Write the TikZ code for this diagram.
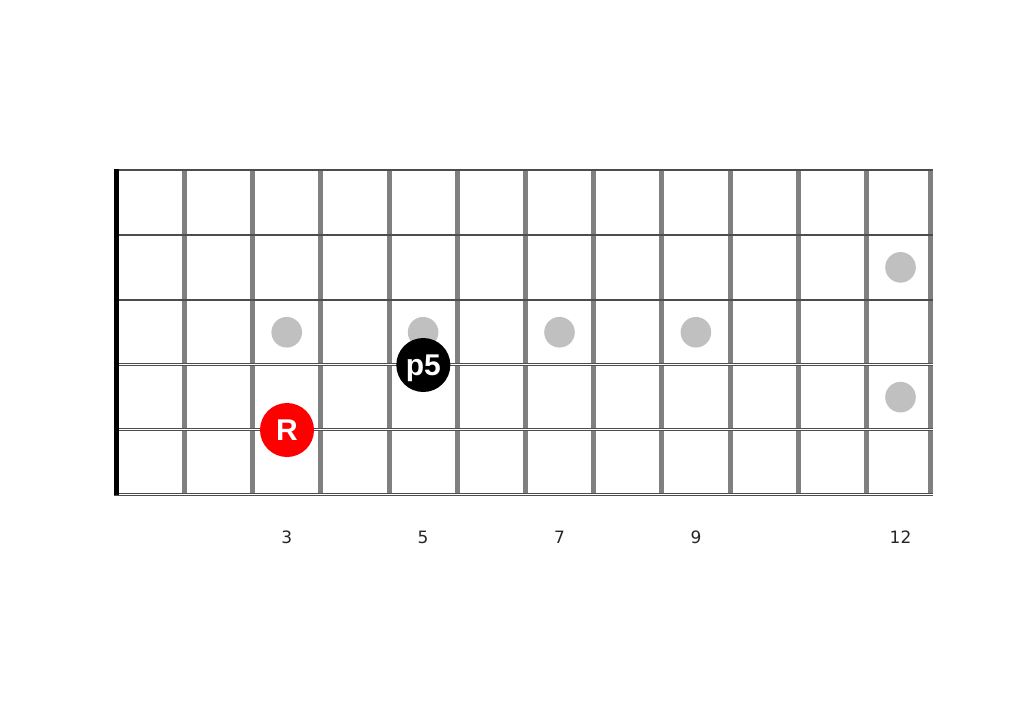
\documentclass[tikz,border=0pt]{standalone}
\usepackage{fontspec}
\setmainfont{DejaVu Sans}
\newfontfamily\notefont{Liberation Sans}
\usetikzlibrary{positioning}

\definecolor{fretgray}{HTML}{808080}
\definecolor{inlaygray}{HTML}{C0C0C0}
\definecolor{stringgray}{HTML}{4D4D4D}
\definecolor{rootred}{HTML}{FF0000}

\tikzset{
  plainstring/.style={draw=stringgray, line width=1.4pt},
  woundstring/.style={draw=stringgray, line width=0.9pt, double=white, double distance=1.4pt},
  fretbar/.style={draw=fretgray, line width=5pt},
  nutbar/.style={draw=black, line width=5pt},
  inlay/.style={fill=inlaygray},
  note/.style={circle, minimum size=54pt, inner sep=0pt, text=white, text depth=0pt,
    font=\notefont\bfseries\fontsize{30}{30}\selectfont},
  fretnum/.style={font=\fontsize{17}{17}\selectfont, text=black!85}
}

\begin{document}
\begin{tikzpicture}[x=1pt,y=-1pt]
\useasboundingbox (0,0) rectangle (1024,724);

\foreach \f in {1,...,11}
  \draw[fretbar] ({116.2+68.2*\f},170) -- ++(0,324.5);
\draw[fretbar] (930,170) -- (930,494.5);

\foreach \s in {0,1,2}
  \draw[plainstring] (114,{170+64.9*\s}) -- (932.5,{170+64.9*\s});
\foreach \s in {3,4,5}
  \draw[woundstring] (114,{170+64.9*\s}) -- (932.5,{170+64.9*\s});

\draw[nutbar] (116.5,169.3) -- (116.5,495);

\foreach \f/\s in {3/2.5,5/2.5,7/2.5,9/2.5,12/1.5,12/3.5}
  \fill[inlay] ({116.2+68.2*(\f-0.5)},{170+64.9*\s}) circle (15.3pt);

\node[note, fill=rootred] (root) at (287,430) {R};
\node[note, fill=black] (fifth) at (423.3,365) {p5};

\foreach \f in {3,5,7,9,12}
  \node[fretnum] (num\f) at ({116.2+68.2*(\f-0.5)},537) {\f};
\end{tikzpicture}
\end{document}
